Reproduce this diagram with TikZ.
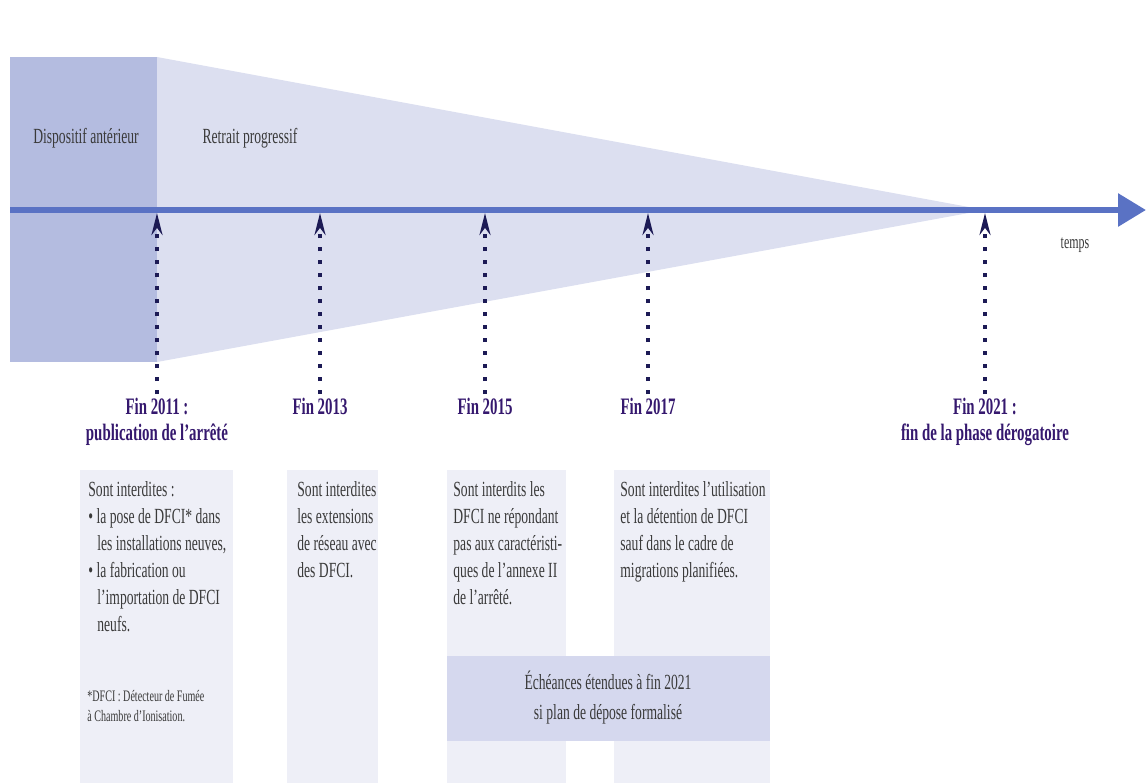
\documentclass[tikz,border=0pt]{standalone}
\usepackage{fontspec}
\setmainfont{Liberation Serif}
\newfontfamily\condfont[FakeStretch=0.63,Ligatures=TeX]{Liberation Serif}
\usetikzlibrary{arrows.meta,positioning}

\definecolor{ancien}{HTML}{B4BCE0}
\definecolor{retrait}{HTML}{DCDFF0}
\definecolor{axe}{HTML}{5A72C4}
\definecolor{fond}{HTML}{EEEFF7}
\definecolor{bande}{HTML}{D5D8EE}
\definecolor{titre}{HTML}{35186E}
\definecolor{fleche}{HTML}{1C1A55}
\definecolor{texte}{HTML}{3A3A3A}

\begin{document}
\begin{tikzpicture}[x=0.5pt, y=-0.5pt,
  echeance/.style={font=\condfont\bfseries\fontsize{11.8}{13}\selectfont, text=titre, align=center, inner sep=0pt, anchor=north},
  corps/.style={font=\condfont\fontsize{10.8}{13.5}\selectfont, text=texte, align=left, anchor=north west, inner sep=0pt},
  jalon/.style={fleche, line width=1.7pt, dash pattern=on 2pt off 4.5pt, -{Stealth[length=11pt,width=5.5pt]}},
]
\useasboundingbox (0,0) rectangle (1146,783);

% Phases
\fill[ancien] (10,57) rectangle (157,362);
\fill[retrait] (157,57) -- (985,210) -- (157,362) -- cycle;
\node[corps, anchor=center] (ancien) at (86,138) {Dispositif antérieur};
\node[corps, anchor=center] (progressif) at (250,138) {Retrait progressif};

% Time axis
\coordinate (debut) at (10,210);
\coordinate (fin) at (1146,210);
\draw[axe, line width=3pt, -{Triangle[length=14pt,width=16pt]}] (debut) -- (fin);
\node[corps, anchor=center, font=\condfont\fontsize{9.5}{11}\selectfont] (temps) at (1075,245) {temps};

% Columns
\fill[fond] (80,470) rectangle (233,783);
\fill[fond] (287,470) rectangle (378,783);
\fill[fond] (447,470) rectangle (566,783);
\fill[fond] (614,470) rectangle (770,783);
\fill[bande] (447,656) rectangle (770,741);

% Milestones
\foreach \an/\x in {2011/157, 2013/320, 2015/485, 2017/648, 2021/985}
  \coordinate (t\an) at (\x,213);
\node[echeance] (l2011) at (157,398) {Fin 2011 :\\publication de l’arrêté};
\node[echeance] (l2013) at (320,398) {Fin 2013};
\node[echeance] (l2015) at (485,398) {Fin 2015};
\node[echeance] (l2017) at (648,398) {Fin 2017};
\node[echeance] (l2021) at (985,398) {Fin 2021 :\\fin de la phase dérogatoire};
\foreach \an in {2011, 2013, 2015, 2017, 2021}
  \draw[jalon] ([yshift=2pt]l\an.north) -- (t\an);

% Texts
\node[corps] (txt2011) at (88,481) {Sont interdites :\\
  \textbullet{} la pose de DFCI* dans\\
  \hspace*{4.5pt}les installations neuves,\\
  \textbullet{} la fabrication ou\\
  \hspace*{4.5pt}l’importation de DFCI\\
  \hspace*{4.5pt}neufs.};
\node[corps, font=\condfont\fontsize{8}{10}\selectfont] (note) at (87,690) {*DFCI : Détecteur de Fumée\\à Chambre d’Ionisation.};
\node[corps] (txt2013) at (297,481) {Sont interdites\\les extensions\\de réseau avec\\des DFCI.};
\node[corps] (txt2015) at (453,481) {Sont interdits les\\DFCI ne répondant\\pas aux caractéristi-\\ques de l’annexe II\\de l’arrêté.};
\node[corps] (txt2017) at (620,481) {Sont interdites l’utilisation\\et la détention de DFCI\\sauf dans le cadre de\\migrations planifiées.};
\node[corps, anchor=center, align=center, font=\condfont\fontsize{10.8}{15}\selectfont] (delai) at (608,698) {Échéances étendues à fin 2021\\si plan de dépose formalisé};

\end{tikzpicture}
\end{document}
